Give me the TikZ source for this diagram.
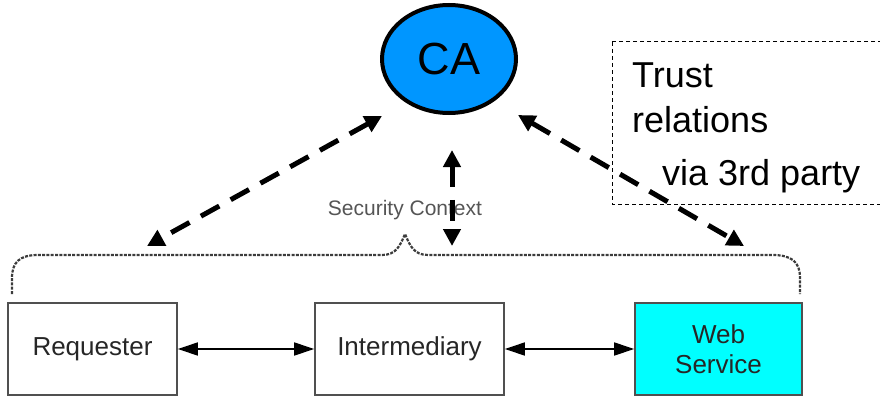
\documentclass[tikz,border=0pt]{standalone}
\usepackage{fontspec}
\setmainfont{Liberation Sans}
\usetikzlibrary{arrows.meta,shapes.geometric}
\definecolor{caBlue}{RGB}{0,150,255}
\definecolor{wsCyan}{RGB}{0,255,255}
\definecolor{frameGray}{RGB}{80,80,80}
\definecolor{braceGray}{RGB}{60,60,60}
\definecolor{labelGray}{RGB}{85,85,85}
\begin{document}
\begin{tikzpicture}[x=1pt,y=-1pt,
  party/.style={draw=frameGray, line width=1.6pt, minimum height=92pt,
    font=\fontsize{26}{30}\selectfont, text=black!85, align=center, inner sep=0pt},
  trustlink/.style={line width=5pt, dash pattern=on 21pt off 13pt,
    {Triangle[length=17pt,width=17pt]}-{Triangle[length=17pt,width=17pt]}},
  msglink/.style={line width=1.5pt,
    {Triangle[length=20pt,width=13pt]}-{Triangle[length=20pt,width=13pt]}},
  contextbrace/.style={draw=braceGray, line width=2.2pt, dash pattern=on 3pt off 1.3pt},
  trustframe/.style={draw=black, line width=1pt, dash pattern=on 4pt off 3pt},
  bigtext/.style={font=\fontsize{36}{45}\selectfont, anchor=base west, inner sep=0pt}
]
\useasboundingbox (0,0) rectangle (880,396);
\clip (0,0) rectangle (880,396);

% certificate authority
\node[ellipse, draw, line width=4pt, fill=caBlue, minimum width=134pt,
  minimum height=108pt, font=\fontsize{45}{50}\selectfont] (ca) at (449,59) {CA};

% note box on the right
\draw[trustframe] (612,42) rectangle (900,204);
\node[bigtext] (t1) at (632,87) {Trust};
\node[bigtext] (t2) at (632,132) {relations};
\node[bigtext] (t3) at (662,185) {via 3rd party};

% the three parties
\node[party, minimum width=169pt] (req) at (92.5,349) {Requester};
\node[party, minimum width=189pt] (mid) at (409.5,349) {Intermediary};
\node[party, minimum width=167pt, fill=wsCyan] (ws) at (718.5,349) {Web\\Service};

\draw[msglink] (req.east) -- (mid.west);
\draw[msglink] (mid.east) -- (ws.west);

% brace spanning the security context
\draw[contextbrace] (12,294) -- (12,278)
  .. controls (12,262) and (20,255) .. (38,255) -- (382,255)
  .. controls (396,255) and (400,246) .. (405,234)
  .. controls (410,246) and (414,255) .. (428,255) -- (772,255)
  .. controls (792,255) and (800,262) .. (800,278) -- (800,294);
\node[font=\fontsize{21}{24}\selectfont, text=labelGray, anchor=base, inner sep=0pt]
  (sc) at (405,215) {Security Context};

% trust links between the CA and the context
\coordinate (caL) at (382,116);
\coordinate (caM) at (452,150);
\coordinate (caR) at (518,115);
\coordinate (brL) at (147,246);
\coordinate (brM) at (452,246);
\coordinate (brR) at (744,246);
\draw[trustlink] (caL) -- (brL);
\draw[trustlink] (caM) -- (brM);
\draw[trustlink] (caR) -- (brR);
\end{tikzpicture}
\end{document}
